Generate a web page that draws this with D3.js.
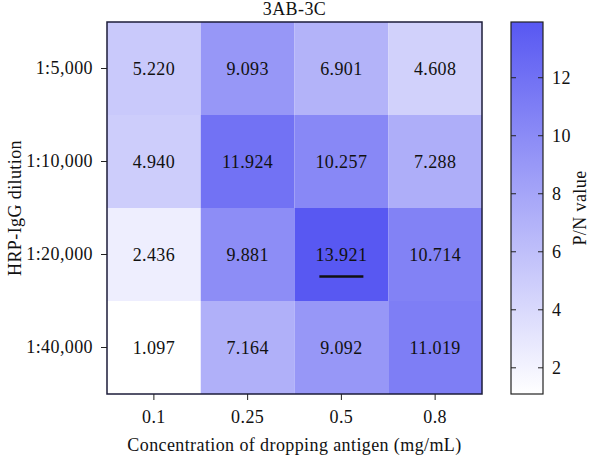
<!DOCTYPE html>
<html>
<head>
<meta charset="utf-8">
<script src="https://cdn.jsdelivr.net/npm/d3@7"></script>
<style>
  body { margin: 0; background: #fff; }
  text { font-family: "Liberation Serif", "DejaVu Serif", serif; fill: #111; letter-spacing: 0.4px; }
</style>
</head>
<body>
<svg id="chart"></svg>
<script>
// size of the page
var width = 600,
    height = 457;

// data
var concentrations = ["0.1", "0.25", "0.5", "0.8"];
var dilutions = ["1:5,000", "1:10,000", "1:20,000", "1:40,000"];
var row5000 = [5.220, 9.093, 6.901, 4.608];
var row10000 = [4.940, 11.924, 10.257, 7.288];
var row20000 = [2.436, 9.881, 13.921, 10.714];
var row40000 = [1.097, 7.164, 9.092, 11.019];
var cbTicks = [2, 4, 6, 8, 10, 12];

var fs = "18px";

var rows = [row5000, row10000, row20000, row40000];
var cells = [];
rows.forEach(function(r, i) {
  r.forEach(function(v, j) {
    cells.push({ row: dilutions[i], col: concentrations[j], value: v });
  });
});

var vmin = d3.min(cells, function(d) { return d.value; });
var vmax = d3.max(cells, function(d) { return d.value; });
var maxCell = cells.find(function(d) { return d.value === vmax; });

var svg = d3.select("#chart")
    .attr("width", width)
    .attr("height", height);

var plot = { left: 107, top: 22, right: 482, bottom: 394 };

var x = d3.scaleBand()
    .domain(concentrations)
    .range([plot.left, plot.right]);

var y = d3.scaleBand()
    .domain(dilutions)
    .range([plot.top, plot.bottom]);

var color = d3.scaleLinear()
    .domain([vmin, vmax])
    .range(["#ffffff", "#5858f2"]);

// heatmap cells
svg.append("g")
  .selectAll("rect")
  .data(cells)
  .enter()
  .append("rect")
    .attr("x", function(d) { return x(d.col); })
    .attr("y", function(d) { return y(d.row); })
    .attr("width", x.bandwidth())
    .attr("height", y.bandwidth())
    .attr("fill", function(d) { return color(d.value); });

// value labels
svg.append("g")
  .selectAll("text")
  .data(cells)
  .enter()
  .append("text")
    .attr("x", function(d) { return x(d.col) + x.bandwidth() / 2; })
    .attr("y", function(d) { return y(d.row) + y.bandwidth() / 2; })
    .attr("text-anchor", "middle")
    .attr("dominant-baseline", "central")
    .style("font-size", fs)
    .text(function(d) { return d.value.toFixed(3); });

// underline the best cell
svg.append("line")
    .attr("x1", x(maxCell.col) + x.bandwidth() / 2 - 22)
    .attr("x2", x(maxCell.col) + x.bandwidth() / 2 + 22)
    .attr("y1", y(maxCell.row) + y.bandwidth() / 2 + 22)
    .attr("y2", y(maxCell.row) + y.bandwidth() / 2 + 22)
    .attr("stroke", "#111")
    .attr("stroke-width", 2.5);

// frame
svg.append("rect")
    .attr("x", plot.left)
    .attr("y", plot.top)
    .attr("width", plot.right - plot.left)
    .attr("height", plot.bottom - plot.top)
    .attr("fill", "none")
    .attr("stroke", "#1c1c3a")
    .attr("stroke-width", 1.5);

// axes
var xAxis = svg.append("g")
    .attr("transform", "translate(0," + plot.bottom + ")")
    .call(d3.axisBottom(x).tickSize(6).tickPadding(10));
var yAxis = svg.append("g")
    .attr("transform", "translate(" + plot.left + ",0)")
    .call(d3.axisLeft(y).tickSize(6).tickPadding(8));
[xAxis, yAxis].forEach(function(a) {
  a.select(".domain").remove();
  a.selectAll("line").attr("stroke", "#222");
  a.selectAll("text").style("font-size", fs)
    .style("font-family", "'Liberation Serif', serif").attr("fill", "#111");
});

// titles
svg.append("text")
    .attr("x", (plot.left + plot.right) / 2)
    .attr("y", 15)
    .attr("text-anchor", "middle")
    .style("font-size", fs)
    .text("3AB-3C");

svg.append("text")
    .attr("x", (plot.left + plot.right) / 2)
    .attr("y", 451)
    .attr("text-anchor", "middle")
    .style("font-size", fs)
    .text("Concentration of dropping antigen (mg/mL)");

svg.append("text")
    .attr("transform", "translate(21," + (plot.top + plot.bottom) / 2 + ") rotate(-90)")
    .attr("text-anchor", "middle")
    .style("font-size", fs)
    .text("HRP-IgG dilution");

// colorbar
var cb = { left: 511, right: 543 };
var cbScale = d3.scaleLinear()
    .domain([vmin, vmax])
    .range([plot.bottom, plot.top]);

var defs = svg.append("defs");
var grad = defs.append("linearGradient")
    .attr("id", "cbgrad")
    .attr("x1", 0).attr("y1", 1).attr("x2", 0).attr("y2", 0);
grad.append("stop").attr("offset", "0%").attr("stop-color", color(vmin));
grad.append("stop").attr("offset", "100%").attr("stop-color", color(vmax));

svg.append("rect")
    .attr("x", cb.left)
    .attr("y", plot.top)
    .attr("width", cb.right - cb.left)
    .attr("height", plot.bottom - plot.top)
    .attr("fill", "url(#cbgrad)")
    .attr("stroke", "#222")
    .attr("stroke-width", 1.2);

var cbg = svg.append("g");
cbg.selectAll("line.l")
  .data(cbTicks)
  .enter().append("line")
    .attr("class", "l")
    .attr("x1", cb.left).attr("x2", cb.left + 5)
    .attr("y1", function(d) { return cbScale(d); })
    .attr("y2", function(d) { return cbScale(d); })
    .attr("stroke", "#222");
cbg.selectAll("line.r")
  .data(cbTicks)
  .enter().append("line")
    .attr("class", "r")
    .attr("x1", cb.right - 5).attr("x2", cb.right)
    .attr("y1", function(d) { return cbScale(d); })
    .attr("y2", function(d) { return cbScale(d); })
    .attr("stroke", "#222");
cbg.selectAll("text")
  .data(cbTicks)
  .enter().append("text")
    .attr("x", cb.right + 9)
    .attr("y", function(d) { return cbScale(d); })
    .attr("dominant-baseline", "central")
    .style("font-size", fs)
    .text(function(d) { return d; });

svg.append("text")
    .attr("transform", "translate(586," + (plot.top + plot.bottom) / 2 + ") rotate(-90)")
    .attr("text-anchor", "middle")
    .style("font-size", fs)
    .text("P/N value");
</script>
</body>
</html>
